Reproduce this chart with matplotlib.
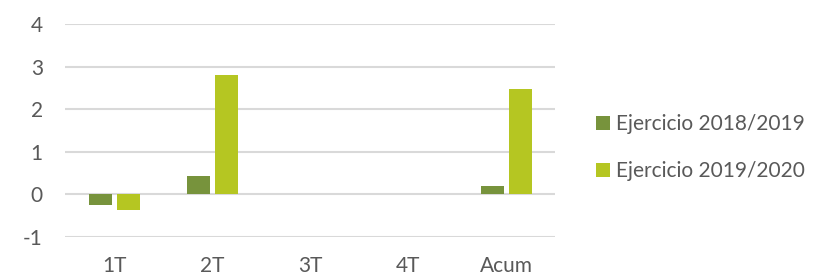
import numpy as np
import matplotlib.pyplot as plt

# data
categories = ['1T', '2T', '3T', '4T', 'Acum']
serie_2018 = [-0.24, 0.43, 0, 0, 0.21]
serie_2019 = [-0.37, 2.82, 0, 0, 2.48]
labels = ['Ejercicio 2018/2019', 'Ejercicio 2019/2020']

plt.rcParams['font.family'] = ['Lato', 'DejaVu Sans']
plt.rcParams['axes.unicode_minus'] = False

fig = plt.figure(figsize=(8.13, 2.76), dpi=100)
ax = fig.add_axes([0.080, 0.1413, 0.6027, 0.7706])

x = np.arange(len(categories))
w = 0.235
off = 0.143
ax.bar(x - off, serie_2018, w, color='#77933C', linewidth=0,
       label=labels[0], zorder=3)
ax.bar(x + off, serie_2019, w, color='#B5C622', linewidth=0,
       label=labels[1], zorder=3)

ax.set_xlim(-0.5, 4.5)
ax.set_ylim(-1, 4)
ax.set_yticks(range(-1, 5))
ax.set_xticks(x)
ax.set_xticklabels(categories)
ax.grid(axis='y', color='#D9D9D9', linewidth=1.5, zorder=0)
ax.set_axisbelow(True)
for s in ax.spines.values():
    s.set_visible(False)
ax.tick_params(axis='both', length=0, labelsize=15, labelcolor='#595959')
ax.tick_params(axis='x', pad=14)
ax.tick_params(axis='y', pad=16)

fig.legend(loc='center left', bbox_to_anchor=(0.733, 0.4656), frameon=False,
           fontsize=15, labelcolor='#595959', handlelength=0.67, handleheight=0.67,
           handletextpad=0.3, labelspacing=1.3, borderpad=0, borderaxespad=0)

fig.savefig('out.png', dpi=100)
